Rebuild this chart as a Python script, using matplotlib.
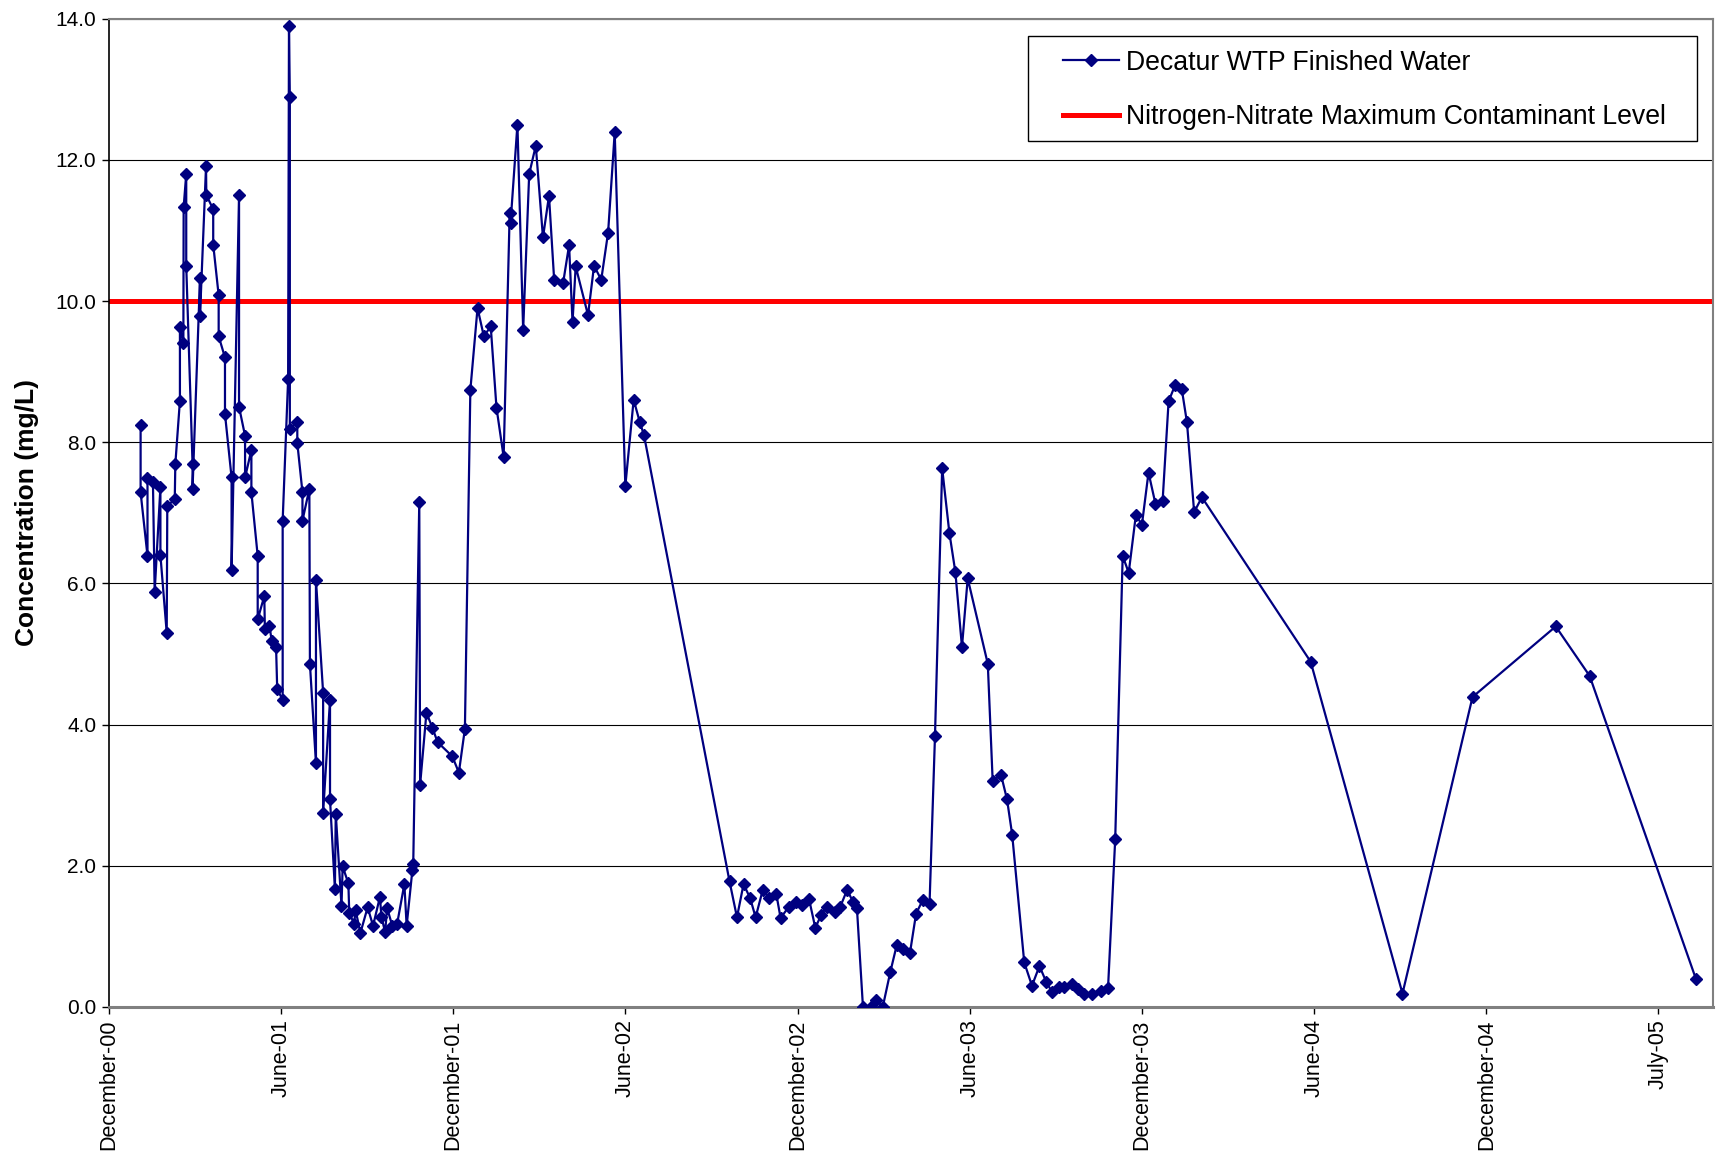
import matplotlib
matplotlib.use("Agg")
import matplotlib.pyplot as plt
from matplotlib.patches import Rectangle

plt.rcParams['font.family'] = ['Liberation Sans', 'DejaVu Sans']

# x = months after the "December-00" tick, y = nitrate concentration (mg/L)
months = [1.11, 1.11, 1.35, 1.35, 1.54, 1.60, 1.80, 1.80, 2.02, 2.04,
          2.30, 2.32, 2.48, 2.48, 2.60, 2.61, 2.70, 2.70, 2.92, 2.92,
          3.18, 3.18, 3.39, 3.40, 3.64, 3.64, 3.83, 3.83, 4.05, 4.05,
          4.28, 4.28, 4.54, 4.54, 4.75, 4.75, 4.97, 4.97, 5.19, 5.19,
          5.42, 5.44, 5.60, 5.68, 5.83, 5.87, 6.06, 6.06, 6.25, 6.28,
          6.31, 6.31, 6.57, 6.57, 6.75, 6.75, 6.99, 7.01, 7.22, 7.22,
          7.47, 7.47, 7.71, 7.71, 7.88, 7.91, 8.11, 8.15, 8.35, 8.38,
          8.55, 8.60, 8.77, 9.02, 9.21, 9.45, 9.50, 9.63, 9.70, 9.88,
          10.05, 10.30, 10.38, 10.58, 10.61, 10.82, 10.85, 11.07, 11.28, 11.46,
          11.97, 12.20, 12.41, 12.60, 12.85, 13.07, 13.31, 13.51, 13.76, 13.97,
          14.00, 14.24, 14.44, 14.65, 14.88, 15.13, 15.34, 15.52, 15.83, 16.04,
          16.16, 16.27, 16.70, 16.91, 17.16, 17.40, 17.63, 18.00, 18.29, 18.50,
          18.65, 21.63, 21.89, 22.12, 22.35, 22.54, 22.79, 23.00, 23.26, 23.41,
          23.70, 23.93, 24.16, 24.40, 24.62, 24.82, 25.02, 25.29, 25.49, 25.73,
          25.93, 26.07, 26.28, 26.57, 26.74, 26.97, 27.23, 27.46, 27.69, 27.92,
          28.13, 28.37, 28.60, 28.79, 29.04, 29.29, 29.50, 29.73, 29.93, 30.63,
          30.80, 31.09, 31.30, 31.48, 31.90, 32.17, 32.43, 32.66, 32.87, 33.10,
          33.30, 33.56, 33.79, 33.98, 34.25, 34.59, 34.82, 35.07, 35.33, 35.54,
          35.79, 36.00, 36.23, 36.47, 36.72, 36.93, 37.16, 37.39, 37.57, 37.82,
          38.09, 41.88, 45.08, 47.52, 50.42, 51.60, 55.31]
nitrate = [8.25, 7.29, 6.39, 7.49, 7.43, 5.88, 7.36, 6.40, 5.30, 7.10,
           7.19, 7.69, 8.59, 9.63, 9.40, 11.33, 11.80, 10.50, 7.69, 7.34,
           10.33, 9.79, 11.91, 11.50, 11.30, 10.80, 10.08, 9.50, 9.20, 8.40,
           7.50, 6.19, 11.50, 8.50, 8.09, 7.50, 7.89, 7.29, 6.39, 5.49,
           5.82, 5.35, 5.40, 5.18, 5.10, 4.50, 4.35, 6.89, 8.89, 13.90,
           12.89, 8.19, 8.29, 7.99, 7.29, 6.89, 7.34, 4.86, 3.45, 6.05,
           4.45, 2.75, 4.35, 2.94, 1.67, 2.74, 1.43, 1.99, 1.75, 1.33,
           1.18, 1.37, 1.05, 1.41, 1.15, 1.56, 1.28, 1.06, 1.40, 1.15,
           1.18, 1.74, 1.15, 1.94, 2.03, 7.15, 3.15, 4.17, 3.95, 3.75,
           3.55, 3.32, 3.94, 8.74, 9.90, 9.50, 9.64, 8.49, 7.79, 11.24,
           11.10, 12.50, 9.59, 11.80, 12.20, 10.90, 11.49, 10.30, 10.25, 10.79,
           9.70, 10.49, 9.80, 10.50, 10.30, 10.97, 12.39, 7.38, 8.60, 8.29,
           8.10, 1.78, 1.27, 1.74, 1.54, 1.27, 1.66, 1.55, 1.60, 1.26,
           1.42, 1.49, 1.45, 1.53, 1.12, 1.30, 1.42, 1.34, 1.42, 1.66,
           1.49, 1.40, 0.00, 0.00, 0.10, 0.00, 0.49, 0.88, 0.82, 0.77,
           1.32, 1.52, 1.46, 3.84, 7.63, 6.72, 6.16, 5.10, 6.07, 4.86,
           3.20, 3.29, 2.94, 2.44, 0.63, 0.30, 0.58, 0.36, 0.21, 0.28,
           0.28, 0.32, 0.25, 0.19, 0.19, 0.23, 0.27, 2.38, 6.39, 6.15,
           6.97, 6.83, 7.57, 7.13, 7.16, 8.58, 8.81, 8.75, 8.28, 7.01,
           7.22, 4.89, 0.19, 4.39, 5.39, 4.69, 0.39]

mcl = 10.0
tick_months = [0, 6, 12, 18, 24, 30, 36, 42, 48, 54]
tick_labels = ['December-00', 'June-01', 'December-01', 'June-02', 'December-02',
               'June-03', 'December-03', 'June-04', 'December-04', 'July-05']

fig = plt.figure(figsize=(17.18, 11.57), dpi=100)
ax = fig.add_axes([0.0633, 0.1297, 0.9338, 0.8542])

ax.set_xlim(0, 55.9)
ax.set_ylim(0, 14)

# horizontal gridlines
ax.set_yticks([0, 2, 4, 6, 8, 10, 12, 14])
ax.yaxis.grid(True, color='black', linewidth=0.8)
ax.set_axisbelow(True)

ax.axhline(mcl, color='#FF0000', linewidth=3.6, zorder=2)
ax.plot(months, nitrate, color='#000080', linewidth=1.6, marker='D',
        markersize=6.5, markerfacecolor='#000080', markeredgecolor='#000080',
        zorder=3)

ax.set_yticklabels(['%.1f' % v for v in [0, 2, 4, 6, 8, 10, 12, 14]], fontsize=15)
ax.set_xticks(tick_months)
ax.set_xticklabels(tick_labels, rotation=90, fontsize=15.5, va='top', ha='center')
ax.tick_params(axis='y', direction='out', length=5, width=1, pad=4)
ax.tick_params(axis='x', direction='out', length=5, width=1, pad=4)
ax.set_ylabel('Concentration (mg/L)', fontsize=19, fontweight='bold', labelpad=12)

ax.spines['left'].set_color('black')
ax.spines['left'].set_linewidth(1.2)
ax.spines['bottom'].set_color('#808080')
ax.spines['bottom'].set_linewidth(2.2)
ax.spines['top'].set_color('#808080')
ax.spines['top'].set_linewidth(1.5)
ax.spines['right'].set_color('#808080')
ax.spines['right'].set_linewidth(1.5)

# legend with its own box
fig.patches.append(Rectangle((0.5984, 0.8781), 0.3894, 0.0908, transform=fig.transFigure,
                             fill=True, facecolor='white', edgecolor='black',
                             linewidth=1.0, zorder=5))
h1, = ax.plot([], [], color='#000080', linewidth=1.6, marker='D', markersize=6.5)
h2, = ax.plot([], [], color='#FF0000', linewidth=3.6)
leg = fig.legend([h1, h2], ['Decatur WTP Finished Water',
                            'Nitrogen-Nitrate Maximum Contaminant Level'],
                 loc='upper left', bbox_to_anchor=(0.6185, 0.957),
                 bbox_transform=fig.transFigure, frameon=False, fontsize=19.2,
                 handlelength=2.1, handletextpad=0.28, labelspacing=1.06,
                 borderpad=0, borderaxespad=0)
leg.set_zorder(6)

fig.savefig('out.png', dpi=100)
